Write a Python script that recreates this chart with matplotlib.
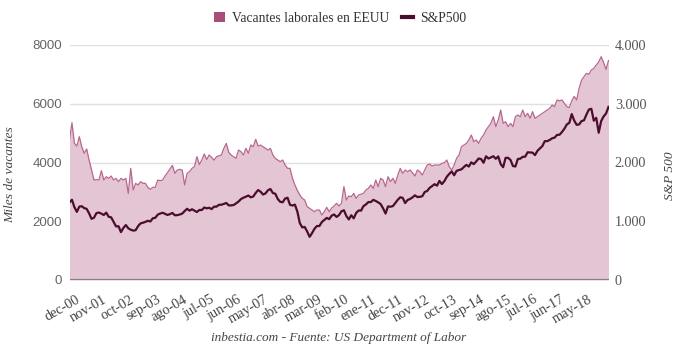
import matplotlib
matplotlib.use("Agg")
import matplotlib.pyplot as plt
from matplotlib.patches import Patch
from matplotlib.lines import Line2D
from matplotlib.transforms import ScaledTranslation
import numpy as np

# Monthly data, Dec 2000 .. Apr 2019
vacantes = [
    4766, 5355, 4652, 4560, 4879, 4539, 4312, 4459, 4085, 3744,
    3404, 3420, 3404, 3721, 3404, 3517, 3460, 3540, 3404, 3460,
    3347, 3460, 3404, 3460, 2950, 3801, 3064, 3290, 3234, 3347,
    3290, 3290, 3150, 3087, 3155, 3155, 3404, 3380, 3404, 3540,
    3653, 3780, 3903, 3631, 3744, 3767, 3744, 3234, 3631, 3688,
    3801, 3858, 4198, 3930, 4085, 4289, 4100, 4255, 4176, 4080,
    4198, 4230, 4255, 4482, 4652, 4350, 4250, 4198, 4142, 4425,
    4368, 4255, 4482, 4312, 4595, 4539, 4788, 4560, 4595, 4539,
    4482, 4425, 4482, 4255, 4142, 4085, 4028, 4085, 3914, 3801,
    3801, 3461, 3234, 3050, 2893, 2780, 2723, 2496, 2439, 2383,
    2326, 2383, 2383, 2213, 2326, 2474, 2326, 2450, 2519, 2610,
    2519, 2610, 3177, 2723, 2859, 2837, 2950, 2780, 2893, 2920,
    2950, 3064, 3120, 3234, 3120, 3404, 3177, 3461, 3404, 3177,
    3517, 3347, 3461, 3290, 3574, 3801, 3631, 3744, 3687, 3744,
    3653, 3540, 3744, 3687, 3574, 3744, 3914, 3949, 3881, 3914,
    3914, 3914, 3971, 3994, 4085, 3858, 3744, 3914, 4142, 4255,
    4539, 4595, 4652, 4766, 4936, 4709, 4766, 4652, 4822, 4936,
    5106, 5220, 5333, 5560, 5220, 5447, 5787, 5333, 5390, 5220,
    5333, 5220, 5560, 5617, 5560, 5787, 5560, 5673, 5503, 5730,
    5503, 5560, 5617, 5673, 5730, 5787, 5843, 5957, 5900, 6127,
    6100, 6127, 6014, 5900, 5870, 6100, 6250, 6127, 6525, 6800,
    6921, 7035, 7000, 7149, 7205, 7319, 7420, 7603, 7400, 7170,
    7470,
]

sp500 = [
    1320,
    1366, 1240, 1160, 1249, 1256, 1224, 1211, 1134, 1041, 1060, 1139, 1148,
    1130, 1107, 1147, 1076, 1067, 990, 912, 916, 815, 886, 936, 880,
    856, 841, 848, 917, 964, 975, 990, 1008, 996, 1051, 1058, 1112,
    1131, 1145, 1126, 1107, 1121, 1141, 1102, 1104, 1115, 1130, 1174, 1212,
    1181, 1204, 1181, 1157, 1192, 1191, 1234, 1220, 1229, 1207, 1249, 1248,
    1280, 1281, 1295, 1311, 1270, 1270, 1277, 1304, 1336, 1378, 1401, 1418,
    1438, 1407, 1421, 1482, 1531, 1503, 1455, 1474, 1527, 1549, 1481, 1468,
    1379, 1331, 1323, 1386, 1400, 1280, 1267, 1283, 1165, 969, 896, 903,
    826, 735, 798, 873, 919, 919, 987, 1021, 1057, 1036, 1096, 1115,
    1074, 1104, 1169, 1187, 1089, 1031, 1102, 1049, 1141, 1183, 1181, 1258,
    1286, 1327, 1326, 1364, 1345, 1321, 1292, 1219, 1131, 1253, 1247, 1258,
    1312, 1366, 1408, 1398, 1310, 1362, 1379, 1407, 1441, 1412, 1416, 1426,
    1498, 1515, 1569, 1598, 1631, 1606, 1686, 1633, 1682, 1757, 1806, 1848,
    1783, 1859, 1872, 1884, 1924, 1960, 1931, 2003, 1972, 2018, 2068, 2059,
    1995, 2105, 2068, 2086, 2107, 2063, 2104, 1972, 1920, 2079, 2080, 2044,
    1940, 1932, 2060, 2065, 2097, 2099, 2174, 2171, 2168, 2126, 2199, 2239,
    2279, 2364, 2363, 2384, 2412, 2423, 2470, 2472, 2519, 2575, 2648, 2674,
    2824, 2714, 2641, 2648, 2705, 2718, 2816, 2902, 2914, 2712, 2760, 2507,
    2704, 2784, 2834, 2946,
]

tick_labels = ["dec-00", "nov-01", "oct-02", "sep-03", "ago-04", "jul-05",
               "jun-06", "may-07", "abr-08", "mar-09", "feb-10", "ene-11",
               "dec-11", "nov-12", "oct-13", "sep-14", "ago-15", "jul-16",
               "jun-17", "may-18"]
tick_step = 11

left_ticks = [0, 2000, 4000, 6000, 8000]
right_ticks = [0, 1000, 2000, 3000, 4000]
right_tick_labels = ["0", "1.000", "2.000", "3.000", "4.000"]

VAC_COLOR = "#a64d79"
SP_COLOR = "#4a0d2e"
SERIF = "Liberation Serif"
SANS = "Liberation Sans"

W, H = 680, 349
fig = plt.figure(figsize=(W / 100, H / 100), dpi=100)
fig.patch.set_facecolor("white")

L, R, T, B = 69.5, 608.5, 45, 280
ax = fig.add_axes([L / W, 1 - B / H, (R - L) / W, (B - T) / H])
ax2 = ax.twinx()

x = np.arange(len(vacantes))
xs = np.arange(len(sp500))

# grid
for v in left_ticks[1:]:
    ax.axhline(v, color="#e0e0e0", lw=1.0, zorder=0)

ax.fill_between(x, 0, vacantes, color="#e3c5d4", lw=0, zorder=1)
ax.plot(x, vacantes, color="#b8678f", lw=0.9, zorder=2)
ax.axhline(0, color="#8c7d87", lw=1.6, zorder=3)

ax2.plot(xs, sp500, color=SP_COLOR, lw=1.6, zorder=4)

ax.set_xlim(0, len(vacantes) - 1)
ax.set_ylim(0, 8000)
ax2.set_ylim(0, 4000)

for a in (ax, ax2):
    for s in a.spines.values():
        s.set_visible(False)
    a.patch.set_visible(False)

ax.set_yticks(left_ticks)
ax.set_yticklabels([str(v) for v in left_ticks], fontfamily=SANS, fontsize=9.6,
                   color="#666666")
ax.tick_params(axis="y", length=0, pad=5.2)

ax2.set_yticks(right_ticks)
ax2.set_yticklabels(right_tick_labels, fontfamily=SERIF, fontsize=10.2,
                    color="#555555")
ax2.tick_params(axis="y", length=0, pad=4.5)

tick_pos = [i * tick_step for i in range(len(tick_labels))]
ax.set_xticks(tick_pos)
ax.set_xticklabels(tick_labels, rotation=30, ha="right", rotation_mode="anchor",
                   fontfamily=SERIF, fontsize=10.3, color="#444444")
ax.tick_params(axis="x", length=0, pad=8)
off = ScaledTranslation(6 / 100, -2 / 100, fig.dpi_scale_trans)
for lab in ax.get_xticklabels():
    lab.set_transform(lab.get_transform() + off)

fig.text(10 / W, 1 - 175 / H, "Miles de vacantes", rotation=90, ha="center",
         va="center", fontfamily=SERIF, fontstyle="italic", fontsize=9.7,
         color="#444444")
fig.text(670 / W, 1 - 176 / H, "S&P 500", rotation=90, ha="center",
         va="center", fontfamily=SERIF, fontstyle="italic", fontsize=9.6,
         color="#444444")

fig.text(339 / W, 1 - 338 / H, "inbestia.com - Fuente: US Department of Labor",
         ha="center", va="center", fontfamily=SERIF, fontstyle="italic",
         fontsize=9.5, color="#444444")

handles = [Patch(facecolor=VAC_COLOR, edgecolor="none"),
           Line2D([0], [0], color=SP_COLOR, lw=3)]
leg = fig.legend(handles, ["Vacantes laborales en EEUU", "S&P500"],
                 loc="center", bbox_to_anchor=(340 / W, 1 - 18 / H), ncol=2,
                 frameon=False, handlelength=0.8, handleheight=0.8,
                 handletextpad=0.5, columnspacing=1.0,
                 prop={"family": SERIF, "size": 9.8})
for t in leg.get_texts():
    t.set_color("#333333")

fig.savefig("out.png", dpi=100)
